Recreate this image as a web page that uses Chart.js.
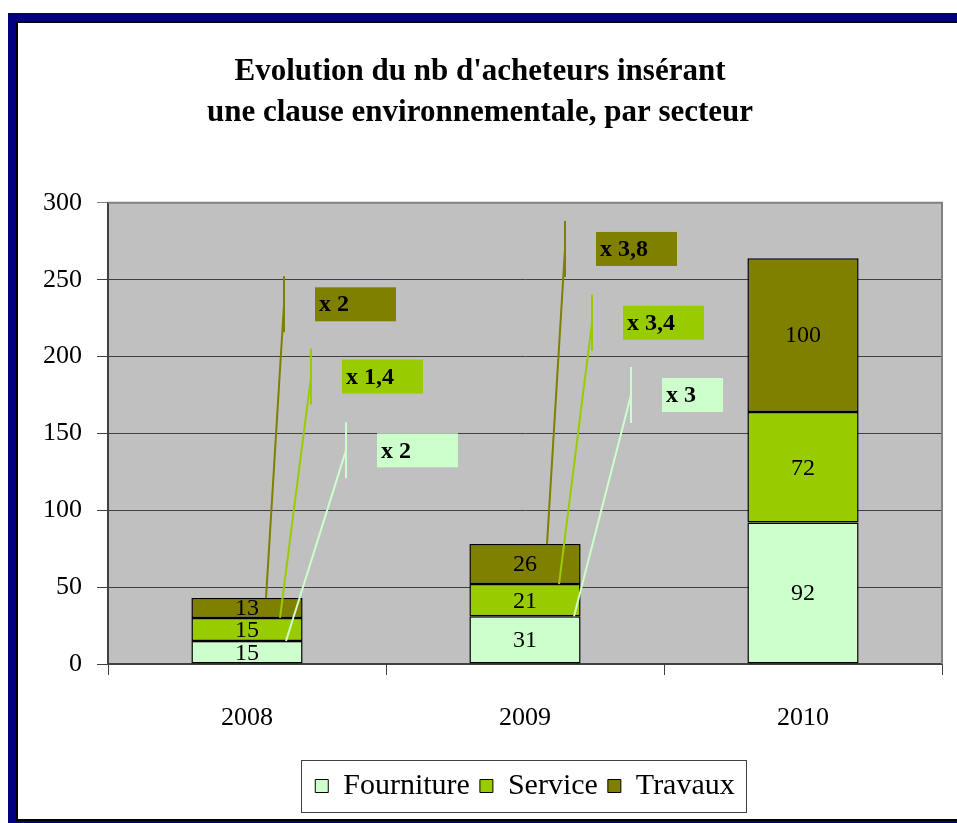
<!DOCTYPE html>
<html>
<head>
<meta charset="utf-8">
<script src="https://cdn.jsdelivr.net/npm/chart.js@4.4.1/dist/chart.umd.min.js"></script>
<style>
  body { margin: 0; background: #fff; }
  #frame { position: absolute; left: 8px; top: 13px; width: 960px; height: 810px;
           border-left: 8px solid #000080; border-top: 8px solid #000080; border-bottom: 2px solid #000080; box-sizing: border-box; }
  #inner { position: absolute; left: 0; top: 0; right: 0; bottom: 0;
           border-left: 2px solid #000; border-top: 2px solid #000; border-bottom: 2px solid #000; background: #fff; }
  #wrap { position: absolute; left: 18px; top: 23px; width: 939px; height: 796px; }
</style>
</head>
<body>
<div id="frame"><div id="inner"></div></div>
<div id="wrap"><canvas id="barGraph"></canvas></div>
<script>
var years = ['2008', '2009', '2010'];
var fourniture = [15, 31, 92];
var service = [15, 21, 72];
var travaux = [13, 26, 100];
// growth factors shown in the call-out boxes (2008, 2009)
var growthFourniture = ['x 2', 'x 3'];
var growthService = ['x 1,4', 'x 3,4'];
var growthTravaux = ['x 2', 'x 3,8'];
var yTicks = [0, 50, 100, 150, 200, 250, 300];

var colors = ['#CCFFCC', '#99CC00', '#808000'];
var growth = [growthFourniture, growthService, growthTravaux];

// where each call-out sits: dataset, year, line start dx, stem dx, stem centre (axis value), box width
var notes = [
    { ds: 2, i: 0, sx: 19, vx: 37, v: 234, w: 81 },
    { ds: 1, i: 0, sx: 33, vx: 64, v: 187, w: 81 },
    { ds: 0, i: 0, sx: 39, vx: 99, v: 139, w: 81 },
    { ds: 2, i: 1, sx: 22, vx: 40, v: 270, w: 81 },
    { ds: 1, i: 1, sx: 34, vx: 67, v: 222, w: 81 },
    { ds: 0, i: 1, sx: 49, vx: 106, v: 175, w: 61 }
];

var serif = '"Liberation Serif", "Times New Roman", serif';

var plotBox = {
    id: 'plotBox',
    afterLayout: function(chart) {
        // legend is centred under the plot area, not the whole canvas
        var lg = chart.legend;
        lg.left = chart.chartArea.left;
        lg.right = chart.chartArea.right;
        lg.width = lg.right - lg.left;
    },
    beforeDraw: function(chart) {
        var a = chart.chartArea, ctx = chart.ctx;
        ctx.save();
        ctx.fillStyle = '#C0C0C0';
        ctx.fillRect(a.left, a.top, a.right - a.left, a.bottom - a.top);
        ctx.restore();
    },
    afterDraw: function(chart) {
        var a = chart.chartArea, ctx = chart.ctx;
        ctx.save();
        ctx.strokeStyle = '#808080';
        ctx.lineWidth = 2;
        ctx.beginPath();
        ctx.moveTo(a.left, a.top);
        ctx.lineTo(a.right, a.top);
        ctx.lineTo(a.right, a.bottom);
        ctx.stroke();
        // legend frame
        var boxes = chart.legend.legendHitBoxes;
        if (boxes && boxes.length) {
            var l = boxes[0].left - 14;
            var last = boxes[boxes.length - 1];
            var r = last.left + last.width + 12;
            var cy = boxes[0].top + boxes[0].height / 2;
            ctx.strokeStyle = '#404040';
            ctx.lineWidth = 1;
            ctx.strokeRect(Math.round(l) + 0.5, Math.round(cy - 26) + 0.5, Math.round(r - l), 52);
        }
        ctx.restore();
    }
};

var labelsAndNotes = {
    id: 'labelsAndNotes',
    afterDatasetsDraw: function(chart) {
        var ctx = chart.ctx, yScale = chart.scales.y;
        ctx.save();
        // values inside segments
        ctx.font = '24px ' + serif;
        ctx.fillStyle = '#000';
        ctx.textAlign = 'center';
        ctx.textBaseline = 'middle';
        chart.data.datasets.forEach(function(ds, d) {
            chart.getDatasetMeta(d).data.forEach(function(bar, i) {
                ctx.fillText(String(ds.data[i]), bar.x, (bar.y + bar.base) / 2 + 1);
            });
        });
        // growth call-outs
        notes.forEach(function(n) {
            var bar = chart.getDatasetMeta(n.ds).data[n.i];
            var stemX = bar.x + n.vx;
            var yc = yScale.getPixelForValue(n.v);
            ctx.strokeStyle = colors[n.ds];
            ctx.lineWidth = 2;
            ctx.beginPath();
            ctx.moveTo(bar.x + n.sx, bar.y);
            ctx.lineTo(stemX, yc);
            ctx.moveTo(stemX, yc - 28);
            ctx.lineTo(stemX, yc + 28);
            ctx.stroke();
            ctx.fillStyle = colors[n.ds];
            ctx.fillRect(stemX + 31, yc - 17, n.w, 34);
            ctx.fillStyle = '#000';
            ctx.font = 'bold 24px ' + serif;
            ctx.textAlign = 'left';
            ctx.fillText(growth[n.ds][n.i], stemX + 35, yc + 1);
        });
        ctx.restore();
    }
};

var ctx = document.getElementById('barGraph').getContext('2d');

var myBarChart = new Chart(ctx, {
    type: 'bar',
    data: {
        labels: years,
        datasets: [
            { label: 'Fourniture', data: fourniture, backgroundColor: colors[0] },
            { label: 'Service', data: service, backgroundColor: colors[1] },
            { label: 'Travaux', data: travaux, backgroundColor: colors[2] }
        ].map(function(ds) {
            ds.borderColor = '#000';
            ds.borderWidth = 1.5;
            ds.borderSkipped = false;
            ds.barPercentage = 0.4;
            ds.categoryPercentage = 1;
            return ds;
        })
    },
    options: {
        responsive: true,
        maintainAspectRatio: false,
        animation: false,
        layout: { padding: { left: 0, right: 15, top: 0, bottom: 8 } },
        plugins: {
            title: {
                display: true,
                text: ["Evolution du nb d'acheteurs insérant", 'une clause environnementale, par secteur'],
                color: '#000',
                font: { family: serif, size: 31, weight: 'bold', lineHeight: 1.32 },
                padding: { top: 29, bottom: 69 }
            },
            legend: {
                position: 'bottom',
                labels: {
                    color: '#000',
                    font: { family: serif, size: 30 },
                    boxWidth: 13,
                    boxHeight: 13,
                    padding: 10,
                    generateLabels: function(chart) {
                        return Chart.defaults.plugins.legend.labels.generateLabels(chart).map(function(item) {
                            item.lineWidth = 1;
                            return item;
                        });
                    }
                }
            },
            tooltip: { enabled: false }
        },
        scales: {
            x: {
                stacked: true,
                grid: { offset: true, drawOnChartArea: false, tickLength: 11, color: '#404040' },
                border: { color: '#404040', width: 2 },
                ticks: { color: '#000', font: { family: serif, size: 26 }, padding: 28 },
                afterFit: function(scale) { scale.height = 97; }
            },
            y: {
                stacked: true,
                min: 0,
                max: 300,
                afterBuildTicks: function(scale) { scale.ticks = yTicks.map(function(v) { return { value: v }; }); },
                grid: {
                    tickLength: 11,
                    color: function(c) { return c.tick && c.tick.value === 300 ? '#808080' : '#404040'; }
                },
                border: { color: '#404040', width: 2 },
                ticks: { color: '#000', font: { family: serif, size: 26 }, padding: 15 },
                afterFit: function(scale) { scale.width = 90; }
            }
        }
    },
    plugins: [plotBox, labelsAndNotes]
});
</script>
</body>
</html>
